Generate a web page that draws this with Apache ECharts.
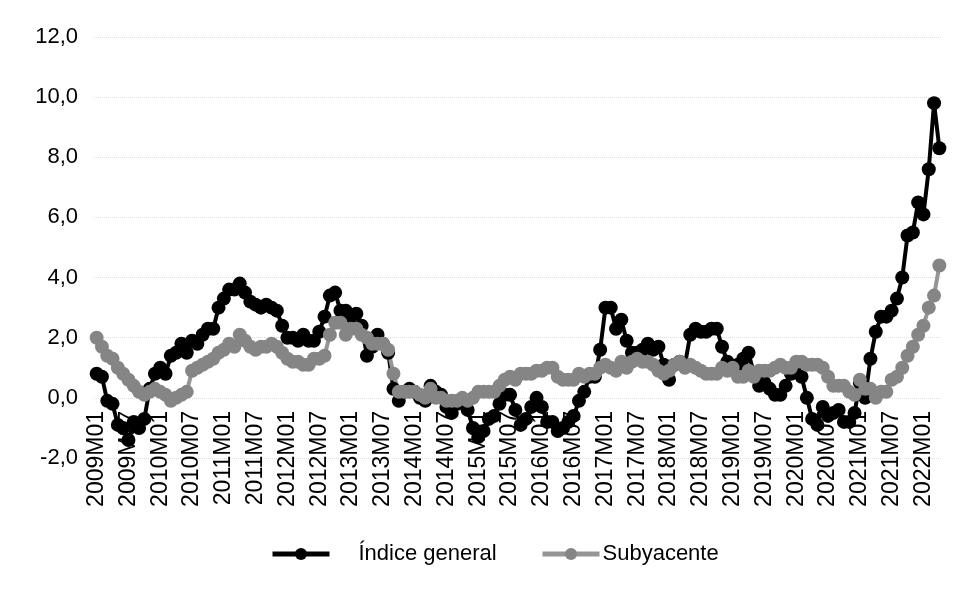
<!DOCTYPE html>
<html>
<head>
<meta charset="utf-8">
<script src="https://cdn.jsdelivr.net/npm/echarts@6/dist/echarts.min.js"></script>
<style>
  html, body { margin: 0; padding: 0; background: #fff; }
  #chart { width: 962px; height: 589px; }
</style>
</head>
<body>
<div id="chart"></div>
<script>
// meses 2009M01 .. 2022M04
var years = [2009, 2010, 2011, 2012, 2013, 2014, 2015, 2016, 2017, 2018, 2019, 2020, 2021, 2022];
var lastMonth2022 = 4;

// tasa de variación anual (%)
var indiceGeneral = [
  0.8, 0.7, -0.1, -0.2, -0.9, -1.0, -1.4, -0.8, -1.0, -0.7, 0.3, 0.8,
  1.0, 0.8, 1.4, 1.5, 1.8, 1.5, 1.9, 1.8, 2.1, 2.3, 2.3, 3.0,
  3.3, 3.6, 3.6, 3.8, 3.5, 3.2, 3.1, 3.0, 3.1, 3.0, 2.9, 2.4,
  2.0, 2.0, 1.9, 2.1, 1.9, 1.9, 2.2, 2.7, 3.4, 3.5, 2.9, 2.9,
  2.7, 2.8, 2.4, 1.4, 1.7, 2.1, 1.8, 1.5, 0.3, -0.1, 0.2, 0.3,
  0.2, 0.0, -0.1, 0.4, 0.2, 0.1, -0.3, -0.5, -0.2, -0.1, -0.4, -1.0,
  -1.3, -1.1, -0.7, -0.6, -0.2, 0.1, 0.1, -0.4, -0.9, -0.7, -0.3, 0.0,
  -0.3, -0.8, -0.8, -1.1, -1.0, -0.8, -0.6, -0.1, 0.2, 0.7, 0.7, 1.6,
  3.0, 3.0, 2.3, 2.6, 1.9, 1.5, 1.5, 1.6, 1.8, 1.6, 1.7, 1.1,
  0.6, 1.1, 1.2, 1.1, 2.1, 2.3, 2.2, 2.2, 2.3, 2.3, 1.7, 1.2,
  1.0, 1.1, 1.3, 1.5, 0.8, 0.4, 0.5, 0.3, 0.1, 0.1, 0.4, 0.8,
  1.1, 0.7, 0.0, -0.7, -0.9, -0.3, -0.6, -0.5, -0.4, -0.8, -0.8, -0.5,
  0.5, 0.0, 1.3, 2.2, 2.7, 2.7, 2.9, 3.3, 4.0, 5.4, 5.5, 6.5,
  6.1, 7.6, 9.8, 8.3
];

var subyacente = [
  2.0, 1.7, 1.4, 1.3, 1.0, 0.8, 0.6, 0.4, 0.2, 0.1, 0.2, 0.3,
  0.2, 0.1, -0.1, 0.0, 0.1, 0.2, 0.9, 1.0, 1.1, 1.2, 1.3, 1.5,
  1.6, 1.8, 1.7, 2.1, 1.9, 1.7, 1.6, 1.7, 1.7, 1.8, 1.7, 1.5,
  1.3, 1.2, 1.2, 1.1, 1.1, 1.3, 1.3, 1.4, 2.1, 2.5, 2.5, 2.1,
  2.3, 2.3, 2.1, 2.0, 1.8, 1.8, 1.8, 1.6, 0.8, 0.2, 0.2, 0.2,
  0.2, 0.1, 0.0, 0.3, 0.0, 0.0, -0.1, -0.1, -0.1, 0.0, -0.1, 0.0,
  0.2, 0.2, 0.2, 0.2, 0.4, 0.6, 0.7, 0.6, 0.8, 0.8, 0.8, 0.9,
  0.9, 1.0, 1.0, 0.7, 0.6, 0.6, 0.6, 0.8, 0.7, 0.8, 0.8, 1.0,
  1.1, 1.0, 0.9, 1.2, 1.0, 1.2, 1.3, 1.2, 1.2, 1.1, 0.9, 0.8,
  0.9, 1.1, 1.2, 1.0, 1.1, 1.0, 0.9, 0.8, 0.8, 0.8, 1.0, 0.9,
  1.0, 0.7, 0.7, 0.9, 0.7, 0.9, 0.9, 0.9, 1.0, 1.1, 1.0, 1.0,
  1.2, 1.2, 1.1, 1.1, 1.1, 1.0, 0.7, 0.4, 0.4, 0.4, 0.2, 0.1,
  0.6, 0.3, 0.3, 0.0, 0.2, 0.2, 0.6, 0.7, 1.0, 1.4, 1.7, 2.1,
  2.4, 3.0, 3.4, 4.4
];

var yTicks = [-2, 0, 2, 4, 6, 8, 10, 12];

var meses = [];
years.forEach(function (y) {
  var n = (y === 2022) ? lastMonth2022 : 12;
  for (var m = 1; m <= n; m++) {
    meses.push(y + 'M' + (m < 10 ? '0' + m : m));
  }
});

var font = "'Liberation Sans', Arial, sans-serif";
var chart = echarts.init(document.getElementById('chart'));

chart.setOption({
  animation: false,
  backgroundColor: '#fff',
  grid: { left: 94, right: 20, top: 37, bottom: 131, containLabel: false },
  legend: [
    {
      data: ['Índice general'],
      left: 265, top: 538,
      itemWidth: 57, itemHeight: 15,
      lineStyle: { width: 5 },
      textStyle: { fontFamily: font, fontSize: 22, color: '#000', padding: [0, 0, 0, 24] }
    },
    {
      data: ['Subyacente'],
      left: 535, top: 538,
      itemWidth: 57, itemHeight: 15,
      lineStyle: { width: 5 },
      textStyle: { fontFamily: font, fontSize: 22, color: '#000', padding: [0, 0, 0, -2] }
    }
  ],
  xAxis: {
    type: 'category',
    data: meses,
    boundaryGap: true,
    axisLine: { show: false, onZero: false },
    axisTick: { show: false },
    axisLabel: {
      interval: 5,
      rotate: 90,
      // etiquetas justo bajo la línea del cero, como en el original
      margin: -47,
      fontFamily: font,
      fontSize: 23,
      color: '#000'
    },
    splitLine: { show: false }
  },
  yAxis: {
    type: 'value',
    min: yTicks[0],
    max: yTicks[yTicks.length - 1],
    interval: 2,
    axisLine: { show: false },
    axisTick: { show: false },
    axisLabel: {
      margin: 16,
      fontFamily: font,
      fontSize: 22,
      color: '#000',
      formatter: function (v) { return v.toFixed(1).replace('.', ','); }
    },
    splitLine: { lineStyle: { color: '#dedede', type: 'dotted', width: 1 } }
  },
  series: [
    {
      name: 'Índice general',
      type: 'line',
      data: indiceGeneral,
      symbol: 'circle',
      symbolSize: 14,
      showAllSymbol: true,
      itemStyle: { color: '#000' },
      lineStyle: { color: '#000', width: 4 }
    },
    {
      name: 'Subyacente',
      type: 'line',
      data: subyacente,
      symbol: 'circle',
      symbolSize: 14,
      showAllSymbol: true,
      itemStyle: { color: '#858585' },
      lineStyle: { color: '#959595', width: 4 }
    }
  ]
});
</script>
</body>
</html>
